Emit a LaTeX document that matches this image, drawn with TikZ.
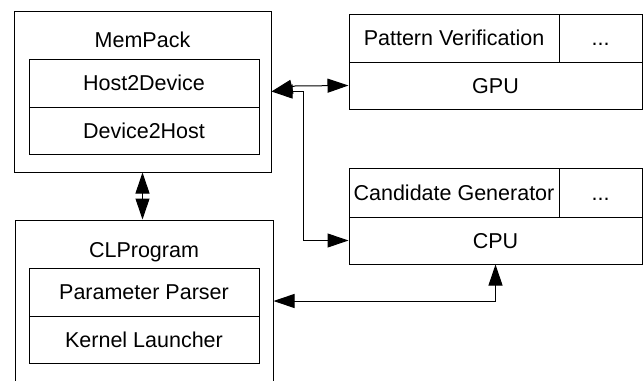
\documentclass[tikz,border=0pt]{standalone}
\usepackage{fontspec}
\setmainfont{Liberation Sans}
\usetikzlibrary{arrows.meta}
\begin{document}
\begin{tikzpicture}[x=1pt,y=-1pt,
  txt/.style={font=\fontsize{21.5}{25}\selectfont, text height=15.4pt, text depth=0pt},
  box/.style={draw=black, line width=1pt, rectangle, inner sep=0pt, txt},
  lbl/.style={inner sep=0pt, txt},
  conn/.style={line width=1pt, {Triangle[length=21pt,width=14pt]}-{Triangle[length=21pt,width=14pt]}}]
\useasboundingbox (0,0) rectangle (644,380);

% MemPack module
\node[box, minimum width=257pt, minimum height=161pt] (mempack) at (142.5,91.5) {};
\node[lbl] (mptitle) at (142.5,39.5) {MemPack};
\node[box, minimum width=230pt, minimum height=48pt] (h2d) at (144,83) {Host2Device};
\node[box, minimum width=230pt, minimum height=47pt] (d2h) at (144,130.5) {Device2Host};

% CLProgram module (runs past the lower edge)
\begin{scope}
\clip (0,0) rectangle (644,380);
\node[box, minimum width=258pt, minimum height=180pt] (clprog) at (144,310) {};
\end{scope}
\node[lbl] (cltitle) at (144,249.5) {CLProgram};
\node[box, minimum width=230pt, minimum height=48pt] (pp) at (144,292) {Parameter Parser};
\node[box, minimum width=230pt, minimum height=47pt] (kl) at (144,339.5) {Kernel Launcher};

% GPU device
\node[box, minimum width=210pt, minimum height=48pt] (pv) at (454,38) {Pattern Verification};
\node[box, minimum width=83pt, minimum height=48pt] (gdots) at (600.5,38) {...};
\node[box, minimum width=293pt, minimum height=47pt] (gpu) at (495.5,85.5) {GPU};

% CPU device
\node[box, minimum width=210pt, minimum height=49pt] (cg) at (454,192.5) {Candidate Generator};
\node[box, minimum width=83pt, minimum height=49pt] (cdots) at (600.5,192.5) {...};
\node[box, minimum width=293pt, minimum height=47pt] (cpu) at (495.5,240.5) {CPU};

% connectors
\coordinate (bend) at (295,86);
\coordinate (trunk) at (303,0);
\coordinate (lvl) at (0,301);
\draw[conn] (gpu.west) -- (bend) -- (mempack.east);
\draw[conn] (mempack.east) -- (mempack.east -| trunk) -- (trunk |- cpu.west) -- (cpu.west);
\draw[conn] (mempack.south) -- (mempack.south |- clprog.north);
\draw[conn] (clprog.east |- lvl) -| (cpu.south);
\end{tikzpicture}
\end{document}
